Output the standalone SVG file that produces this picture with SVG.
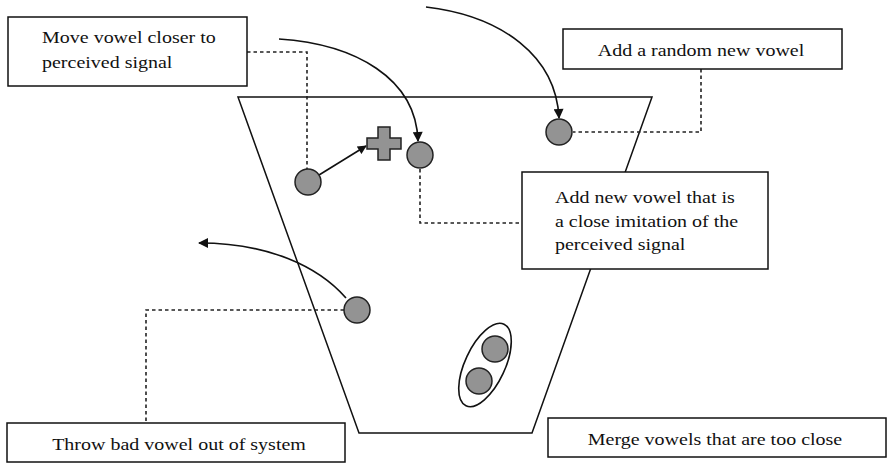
<svg xmlns="http://www.w3.org/2000/svg" width="887" height="464" viewBox="0 0 887 464">
<style>
.box{fill:#fff;stroke:#111;stroke-width:1.5}
.v{fill:#939393;stroke:#222;stroke-width:1.5}
.dot{fill:none;stroke:#222;stroke-width:1.6;stroke-dasharray:3.5,3}
.arr{fill:none;stroke:#111;stroke-width:1.6}
text{font-family:'Liberation Serif','DejaVu Serif',serif;font-size:20px;fill:#111}
</style>
<defs>
<marker id="ah" viewBox="0 0 10 10" refX="9" refY="5" markerWidth="14" markerHeight="10" markerUnits="userSpaceOnUse" orient="auto">
<path d="M0,0 L10,5 L0,10 z" fill="#111"/>
</marker>
<marker id="ahs" viewBox="0 0 10 10" refX="9" refY="5" markerWidth="12" markerHeight="9" markerUnits="userSpaceOnUse" orient="auto">
<path d="M0,0 L10,5 L0,10 z" fill="#111"/>
</marker>
</defs>
<g id="system">
<polygon points="238,97 652,97 532,433 359,433" fill="none" stroke="#111" stroke-width="1.5"/>
</g>
<g id="connectors">
<polyline class="dot" points="247,52 307,52 307,169"/>
<polyline class="dot" points="420,169 420,223 522,223"/>
<polyline class="dot" points="701,69 701,132 573,132"/>
<polyline class="dot" points="344,310 146,310 146,423"/>
<path class="arr" d="M279,39 C355,44 416,78 418,141" marker-end="url(#ah)"/>
<path class="arr" d="M426,7 C502,16 556,56 559,118" marker-end="url(#ah)"/>
<path class="arr" d="M346,298 C318,266 268,243 199,243" marker-end="url(#ah)"/>
<line class="arr" x1="319" y1="175" x2="366" y2="146" marker-end="url(#ahs)"/>
</g>
<g id="vowel-move"><circle class="v" cx="308" cy="182" r="13"/></g>
<g id="plus"><path class="v" d="M378,127 H390 V138 H401 V149 H390 V160 H378 V149 H367 V138 H378 Z"/></g>
<g id="vowel-imitation"><circle class="v" cx="420" cy="155" r="13"/></g>
<g id="vowel-random"><circle class="v" cx="559" cy="132" r="13"/></g>
<g id="vowel-bad"><circle class="v" cx="357" cy="310" r="13"/></g>
<g id="vowels-merge">
<ellipse cx="485" cy="365" rx="45" ry="20" transform="rotate(-65 485 365)" fill="#fff" stroke="#111" stroke-width="1.6"/>
<circle class="v" cx="495" cy="349" r="13"/>
<circle class="v" cx="479" cy="381" r="13"/>
</g>
<g id="box-move">
<rect class="box" x="8" y="17" width="239" height="69"/>
<text transform="translate(42,43) scale(1,0.88)">Move vowel closer to</text>
<text transform="translate(42,68) scale(1,0.88)">perceived signal</text>
</g>
<g id="box-random">
<rect class="box" x="563" y="29" width="279" height="40"/>
<text text-anchor="middle" transform="translate(701,56) scale(1,0.88)">Add a random new vowel</text>
</g>
<g id="box-imitation">
<rect class="box" x="522" y="172" width="246" height="97"/>
<text transform="translate(555,203) scale(1,0.88)">Add new vowel that is</text>
<text transform="translate(555,227) scale(1,0.88)">a close imitation of the</text>
<text transform="translate(555,250) scale(1,0.88)">perceived signal</text>
</g>
<g id="box-throw">
<rect class="box" x="7" y="423" width="338" height="39"/>
<text text-anchor="middle" transform="translate(179,450) scale(1,0.88)">Throw bad vowel out of system</text>
</g>
<g id="box-merge">
<rect class="box" x="548" y="418" width="338" height="39"/>
<text text-anchor="middle" transform="translate(715,445) scale(1,0.88)">Merge vowels that are too close</text>
</g>
</svg>
